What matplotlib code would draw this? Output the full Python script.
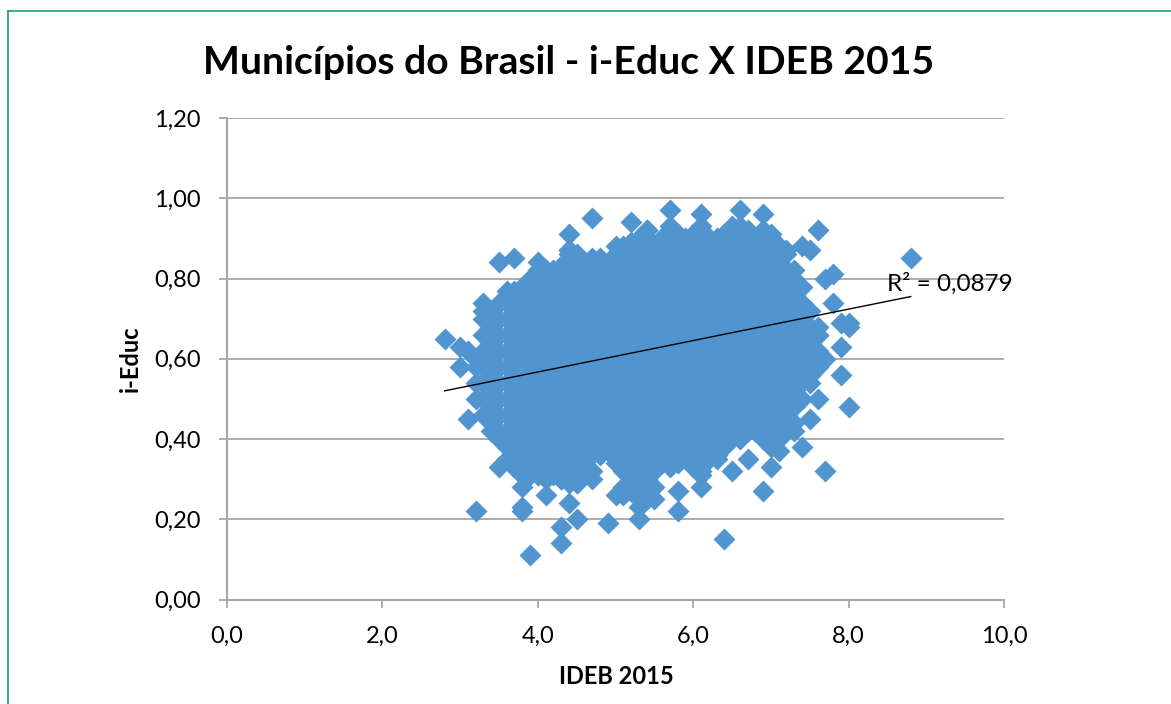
import matplotlib
matplotlib.use('Agg')
import matplotlib.pyplot as plt
from matplotlib.lines import Line2D

# isolated municipalities around the blob
outer_ideb = [2.8,3.0,3.0,3.1,3.1,3.2,3.3,3.5,3.7,3.5,3.7,3.8,3.8,3.8,3.9,4.0,4.1,4.3,4.3,4.4,4.5,4.4,4.7,4.4,4.5,4.3,
              4.9,5.2,5.3,5.3,5.4,5.7,5.8,5.8,6.1,6.1,6.4,6.5,6.6,6.7,6.9,6.9,7.0,7.1,7.4,7.5,7.6,7.6,7.7,7.8,7.7,7.8,
              7.9,7.9,7.9,8.0,8.0,8.0,8.8,7.4,7.5,7.6,7.6,7.5,7.3,7.2]
outer_ieduc = [.65,.63,.58,.62,.45,.22,.74,.84,.85,.33,.33,.28,.23,.22,.11,.31,.26,.18,.14,.24,.20,.91,.95,.87,.29,.30,
               .19,.94,.20,.23,.92,.97,.22,.27,.96,.28,.15,.32,.97,.35,.96,.27,.33,.37,.38,.45,.92,.50,.32,.81,.80,.74,
               .69,.63,.56,.69,.68,.48,.85,.88,.87,.68,.66,.56,.42,.43]

# the dense part, one list of i-Educ per IDEB value
col_ideb = [3.2,3.3,3.4,3.5,3.6,3.7,3.8,3.9,4.0,4.1,4.2,4.3,4.4,4.5,4.6,4.7,4.8,4.9,5.0,5.1,5.2,5.3,5.4,5.5,
            5.6,5.7,5.8,5.9,6.0,6.1,6.2,6.3,6.4,6.5,6.6,6.7,6.8,6.9,7.0,7.1,7.2,7.3,7.4,7.5,7.6,7.7]
col_ieduc = [
    [.50,.54,.58,.60],
    [.46,.50,.54,.58,.62,.66,.70,.72],
    [.42,.44,.48,.52,.56,.60,.64,.68,.72],
    [.40,.42,.46,.50,.54,.58,.62,.66,.70,.74],
    [.35,.38,.42,.46,.50,.54,.58,.62,.66,.70,.74,.77],
    [.33,.36,.40,.44,.48,.52,.56,.60,.64,.68,.72,.76,.77],
    [.31,.34,.38,.42,.46,.50,.54,.58,.62,.66,.70,.74,.78],
    [.31,.32,.36,.40,.44,.48,.52,.56,.60,.64,.68,.72,.76,.80],
    [.31,.34,.38,.42,.46,.50,.54,.58,.62,.66,.70,.74,.78,.82,.84],
    [.30,.32,.36,.40,.44,.48,.52,.56,.60,.64,.68,.72,.76,.80,.82],
    [.31,.34,.38,.42,.46,.50,.54,.58,.62,.66,.70,.74,.78,.82],
    [.30,.32,.36,.40,.44,.48,.52,.56,.60,.64,.68,.72,.76,.80,.83],
    [.29,.30,.34,.38,.42,.46,.50,.54,.58,.62,.66,.70,.74,.78,.82,.86,.87],
    [.29,.32,.36,.40,.44,.48,.52,.56,.60,.64,.68,.72,.76,.80,.84,.86],
    [.31,.34,.38,.42,.46,.50,.54,.58,.62,.66,.70,.74,.78,.82,.84],
    [.30,.32,.36,.40,.44,.48,.52,.56,.60,.64,.68,.72,.76,.80,.84,.85],
    [.36,.38,.42,.46,.50,.54,.58,.62,.66,.70,.74,.78,.82,.85],
    [.37,.40,.44,.48,.52,.56,.60,.64,.68,.72,.76,.80,.83],
    [.26,.34,.38,.42,.46,.50,.54,.58,.62,.66,.70,.74,.78,.82,.86,.88],
    [.26,.28,.32,.36,.40,.44,.48,.52,.56,.60,.64,.68,.72,.76,.80,.84,.88],
    [.27,.30,.34,.38,.42,.46,.50,.54,.58,.62,.66,.70,.74,.78,.82,.86,.89],
    [.25,.28,.32,.36,.40,.44,.48,.52,.56,.60,.64,.68,.72,.76,.80,.84,.88,.90],
    [.25,.30,.34,.38,.42,.46,.50,.54,.58,.62,.66,.70,.74,.78,.82,.86,.90,.92],
    [.25,.28,.32,.36,.40,.44,.48,.52,.56,.60,.64,.68,.72,.76,.80,.84,.88],
    [.34,.38,.42,.46,.50,.54,.58,.62,.66,.70,.74,.78,.82,.86,.90],
    [.33,.36,.40,.44,.48,.52,.56,.60,.64,.68,.72,.76,.80,.84,.88,.92,.93],
    [.34,.38,.42,.46,.50,.54,.58,.62,.66,.70,.74,.78,.82,.86,.90,.91],
    [.36,.40,.44,.48,.52,.56,.60,.64,.68,.72,.76,.80,.84,.88,.90],
    [.33,.34,.38,.42,.46,.50,.54,.58,.62,.66,.70,.74,.78,.82,.86,.90,.91],
    [.31,.32,.36,.40,.44,.48,.52,.56,.60,.64,.68,.72,.76,.80,.84,.88,.92,.93],
    [.35,.38,.42,.46,.50,.54,.58,.62,.66,.70,.74,.78,.82,.86,.90],
    [.35,.36,.40,.44,.48,.52,.56,.60,.64,.68,.72,.76,.80,.84,.88,.90],
    [.38,.42,.46,.50,.54,.58,.62,.66,.70,.74,.78,.82,.86,.90,.91],
    [.40,.44,.48,.52,.56,.60,.64,.68,.72,.76,.80,.84,.88,.92,.93],
    [.40,.42,.46,.50,.54,.58,.62,.66,.70,.74,.78,.82,.86,.90,.93],
    [.42,.44,.48,.52,.56,.60,.64,.68,.72,.76,.80,.84,.88,.92],
    [.42,.46,.50,.54,.58,.62,.66,.70,.74,.78,.82,.86,.90],
    [.40,.44,.48,.52,.56,.60,.64,.68,.72,.76,.80,.84,.88,.92],
    [.38,.42,.46,.50,.54,.58,.62,.66,.70,.74,.78,.82,.86,.90,.91],
    [.40,.44,.48,.52,.56,.60,.64,.68,.72,.76,.80,.84,.88],
    [.42,.46,.50,.54,.58,.62,.66,.70,.74,.78,.82,.86,.87],
    [.44,.48,.52,.56,.60,.64,.68,.72,.76,.80,.82],
    [.50,.54,.58,.62,.66,.70,.74,.78],
    [.54,.56,.60,.64,.68,.72],
    [.58,.62,.66],
    [.60],
]

trend_ideb = [2.8, 8.8]
trend_ieduc = [.52, .755]

x_ticks = [0, 2, 4, 6, 8, 10]
x_labels = ['0,0', '2,0', '4,0', '6,0', '8,0', '10,0']
y_ticks = [0, .2, .4, .6, .8, 1.0, 1.2]
y_labels = ['0,00', '0,20', '0,40', '0,60', '0,80', '1,00', '1,20']

W, H = 1171, 704
plt.rcParams['font.family'] = ['Lato', 'DejaVu Sans']
fig = plt.figure(figsize=(W/100, H/100), dpi=100)
ax = fig.add_axes([227/W, 1-599.5/H, 777/W, 481.5/H])

all_x = []
all_y = []
for xv, ys in zip(col_ideb, col_ieduc):
    for yv in ys:
        all_x.append(xv)
        all_y.append(yv)
ax.plot(all_x + outer_ideb, all_y + outer_ieduc, ls='none', marker='D', ms=11,
        mfc='#5094d0', mec='none', zorder=3)
ax.plot(trend_ideb, trend_ieduc, color='black', lw=1.0, zorder=4)

ax.set_xlim(0, 10)
ax.set_ylim(0, 1.2)
ax.set_xticks(x_ticks)
ax.set_xticklabels(x_labels)
ax.set_yticks(y_ticks)
ax.set_yticklabels(y_labels)
ax.tick_params(length=6, width=1.3, color='#a6a6ab', labelsize=17, pad=13, labelcolor='black')
ax.tick_params(axis='x', pad=13)
ax.grid(axis='y', color='#a6a6a6', lw=1.3, zorder=1)
ax.set_axisbelow(True)
for s in ['top', 'right']:
    ax.spines[s].set_visible(False)
for s in ['left', 'bottom']:
    ax.spines[s].set_color('#a6a6ab')
    ax.spines[s].set_linewidth(1.5)

ax.text(8.5, .7875, 'R² = 0,0879', fontsize=17.5, ha='left', va='center', zorder=5)
fig.text(568.5/W, 1-62/H, 'Municípios do Brasil - i-Educ X IDEB 2015', fontsize=28.2, fontweight='bold',
         ha='center', va='center')
fig.text(616/W, 1-677/H, 'IDEB 2015', fontsize=17, fontweight='bold', ha='center', va='center')
fig.text(130/W, 1-359/H, 'i-Educ', fontsize=17, fontweight='bold', ha='center', va='center', rotation=90)

# green border of the slide, top and left only
fig.add_artist(Line2D([7.5/W, 1], [1-10.5/H, 1-10.5/H], color='#17a07a', lw=1.2, transform=fig.transFigure))
fig.add_artist(Line2D([7.5/W, 7.5/W], [0, 1-10.5/H], color='#17a07a', lw=1.2, transform=fig.transFigure))

fig.savefig('out.png', dpi=100)
